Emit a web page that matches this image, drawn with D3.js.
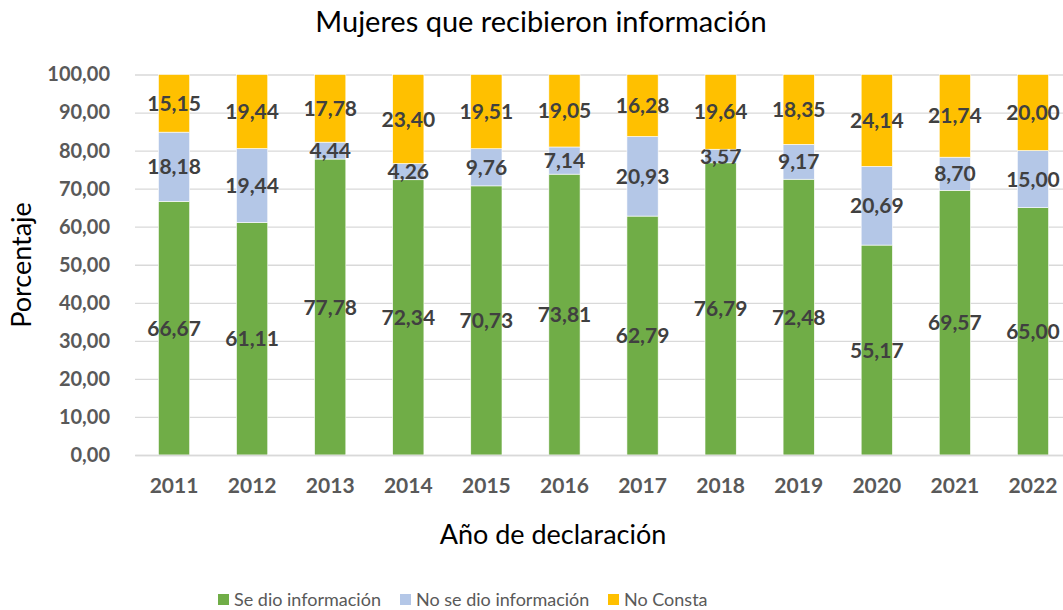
<!DOCTYPE html>
<html>
<head>
<meta charset="utf-8">
<script src="https://cdn.jsdelivr.net/npm/d3@7"></script>
<style>
  body { margin: 0; background: #fff; }
  svg { display: block; font-family: Lato, "Open Sans", sans-serif; }
</style>
</head>
<body>
<svg id="chart" width="1063" height="610"></svg>
<script>
// datos del gráfico
const years = ["2011", "2012", "2013", "2014", "2015", "2016", "2017", "2018", "2019", "2020", "2021", "2022"];
const seDio = [66.67, 61.11, 77.78, 72.34, 70.73, 73.81, 62.79, 76.79, 72.48, 55.17, 69.57, 65.00];
const noSeDio = [18.18, 19.44, 4.44, 4.26, 9.76, 7.14, 20.93, 3.57, 9.17, 20.69, 8.70, 15.00];
const noConsta = [15.15, 19.44, 17.78, 23.40, 19.51, 19.05, 16.28, 19.64, 18.35, 24.14, 21.74, 20.00];
const seriesNames = ["Se dio información", "No se dio información", "No Consta"];
const seriesColors = ["#70AD47", "#B4C7E7", "#FFC000"];
const yTicks = d3.range(0, 101, 10);

const fmt = (v) => v.toFixed(2).replace(".", ",");

const svg = d3.select("#chart");
const x = d3.scaleBand().domain(years).range([135, 1072]).paddingInner(0.6).paddingOuter(0.3);
const y = d3.scaleLinear().domain([0, 100]).range([455, 74.5]);

const rows = years.map((yr, i) => ({ year: yr, s0: seDio[i], s1: noSeDio[i], s2: noConsta[i] }));
const stack = d3.stack().keys(["s0", "s1", "s2"])(rows);

// rejilla
svg.append("g")
  .attr("transform", "translate(135,0)")
  .call(d3.axisLeft(y).tickValues(yTicks).tickSize(-940).tickFormat(fmt))
  .call((g) => g.select(".domain").remove())
  .call((g) => g.selectAll(".tick line").attr("stroke", "#d9d9d9").attr("stroke-width", 1.3))
  .call((g) => g.selectAll(".tick text")
    .attr("x", -25)
    .attr("fill", "#595959")
    .attr("font-size", 20)
    .attr("font-weight", "bold")
    .attr("font-family", "Lato, sans-serif"));

// barras
const layer = svg.append("g").selectAll("g")
  .data(stack)
  .join("g")
  .attr("fill", (d, i) => seriesColors[i]);

layer.selectAll("rect")
  .data((d) => d)
  .join("rect")
  .attr("x", (d) => x(d.data.year))
  .attr("width", x.bandwidth())
  .attr("y", (d) => y(d[1]))
  .attr("height", (d) => y(d[0]) - y(d[1]))
  .attr("stroke", "#fff")
  .attr("stroke-width", 0.6);

// eje x
svg.append("g")
  .attr("transform", "translate(0,455)")
  .call(d3.axisBottom(x).tickSize(0).tickPadding(23))
  .call((g) => g.select(".domain").attr("stroke", "#d9d9d9").attr("stroke-width", 1.3))
  .call((g) => g.selectAll(".tick text")
    .attr("fill", "#595959")
    .attr("font-size", 21)
    .attr("font-weight", "bold")
    .attr("font-family", "Lato, sans-serif"));

// etiquetas de datos
layer.selectAll("text")
  .data((d) => d)
  .join("text")
  .attr("x", (d) => x(d.data.year) + x.bandwidth() / 2)
  .attr("y", (d) => (y(d[0]) + y(d[1])) / 2)
  .attr("dy", "0.36em")
  .attr("text-anchor", "middle")
  .attr("fill", "#404040")
  .attr("font-size", 21)
  .attr("font-weight", "bold")
  .text((d) => fmt(d[1] - d[0]));

// títulos
svg.append("text")
  .attr("x", 541).attr("y", 32)
  .attr("text-anchor", "middle")
  .attr("font-size", 29)
  .attr("fill", "#000")
  .text("Mujeres que recibieron información");

svg.append("text")
  .attr("x", 553).attr("y", 544)
  .attr("text-anchor", "middle")
  .attr("font-size", 27)
  .attr("fill", "#000")
  .text("Año de declaración");

svg.append("text")
  .attr("transform", "translate(31,265) rotate(-90)")
  .attr("text-anchor", "middle")
  .attr("font-size", 27)
  .attr("fill", "#000")
  .text("Porcentaje");

// leyenda
const legendX = [218, 400, 608];
const legend = svg.append("g").selectAll("g")
  .data(seriesNames)
  .join("g")
  .attr("transform", (d, i) => `translate(${legendX[i]},594)`);

legend.append("rect")
  .attr("width", 11).attr("height", 11)
  .attr("fill", (d, i) => seriesColors[i]);

legend.append("text")
  .attr("x", 16).attr("y", 6)
  .attr("dy", "0.36em")
  .attr("font-size", 18)
  .attr("fill", "#595959")
  .text((d) => d);
</script>
</body>
</html>
